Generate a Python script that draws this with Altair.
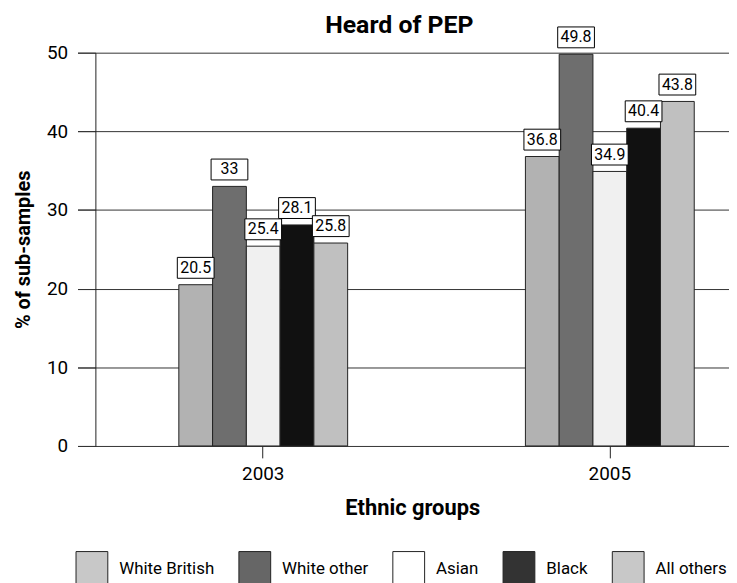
import altair as alt
import pandas as pd

years = ["2003", "2005"]
groups = ["White British", "White other", "Asian", "Black", "All others"]
values_2003 = [20.5, 33, 25.4, 28.1, 25.8]
values_2005 = [36.8, 49.8, 34.9, 40.4, 43.8]
bar_colors = ["#b2b2b2", "#6e6e6e", "#f0f0f0", "#111111", "#c0c0c0"]
legend_colors = ["#c8c8c8", "#666666", "#ffffff", "#333333", "#c8c8c8"]
y_ticks = [0, 10, 20, 30, 40, 50]

rows = []
for yr, vals in zip(years, [values_2003, values_2005]):
    for g, v in zip(groups, vals):
        rows.append({"year": yr, "group": g, "value": v})
df = pd.DataFrame(rows)

FONT = "Roboto"

x_enc = alt.X(
    "year:N",
    title="Ethnic groups",
    scale=alt.Scale(domain=years, range=[-18, 705], paddingInner=0.31805, paddingOuter=0.19484),
    axis=alt.Axis(
        labelAngle=0, labelFontSize=19, labelPadding=7, labelColor="black",
        tickSize=12, tickColor="#222222", domain=False,
        titleFontSize=22, titleFontWeight="bold", titlePadding=14, titleX=319,
        titleColor="black", grid=False,
    ),
)
xoff = alt.XOffset("group:N", scale=alt.Scale(domain=groups, paddingInner=0, paddingOuter=1))
y_enc = alt.Y(
    "value:Q",
    title="% of sub-samples",
    scale=alt.Scale(domain=[0, 50], nice=False),
    axis=alt.Axis(
        values=y_ticks, labelFontSize=19, labelPadding=10, labelColor="black",
        tickSize=18, tickColor="#333333", grid=True, gridColor="#333333",
        domainColor="#222222", titleFontSize=20, titleFontWeight="bold",
        titlePadding=13, titleColor="black",
    ),
)

base = alt.Chart(df)

bars = base.mark_bar(stroke="#222222", strokeWidth=1).encode(
    x=x_enc,
    xOffset=xoff,
    y=y_enc,
    fill=alt.Fill("group:N", scale=alt.Scale(domain=groups, range=bar_colors), legend=None),
)

legend_layer = base.transform_filter("false").mark_bar(stroke="#222222").encode(
    x=alt.X("year:N"),
    y=alt.Y("value:Q"),
    fill=alt.Fill(
        "group:N",
        scale=alt.Scale(domain=groups, range=legend_colors),
        legend=alt.Legend(
            title=None, orient="none", direction="horizontal", legendX=-20, legendY=503,
            symbolType="M-1,-1.1H1V1.1H-1Z", symbolSize=1024, symbolStrokeColor="#222222",
            symbolStrokeWidth=1, labelFontSize=17, labelFont=FONT, labelColor="black",
            labelOffset=11, columnPadding=22, labelLimit=300,
        ),
    ),
)

boxes = base.mark_point(
    shape="M-1,-0.568H1V0.568H-1Z", size=1369, filled=True, fill="white",
    stroke="black", strokeWidth=1, opacity=1, yOffset=-17,
).encode(x=alt.X("year:N"), xOffset=alt.XOffset("group:N"), y=alt.Y("value:Q"))

labels = base.mark_text(
    font=FONT, fontSize=16, yOffset=-17, baseline="middle", align="center", color="black",
).encode(x=alt.X("year:N"), xOffset=alt.XOffset("group:N"), y=alt.Y("value:Q"), text=alt.Text("value:Q"))

chart = (
    alt.layer(bars, legend_layer, boxes, labels)
    .resolve_scale(fill="independent")
    .properties(
        width=638,
        height=396,
        autosize=alt.AutoSizeParams(type="none"),
        padding={"left": 88, "top": 43, "right": 0, "bottom": 136},
        title=alt.TitleParams(
            "Heard of PEP", fontSize=25, fontWeight="bold", font=FONT, anchor="middle",
            frame="group", baseline="bottom", dx=-13, offset=-38, color="black",
        ),
    )
    .configure_view(stroke=None)
    .configure_axis(labelFont=FONT, titleFont=FONT)
)

chart.save("out.html", embed_options={"renderer": "svg", "actions": False})
